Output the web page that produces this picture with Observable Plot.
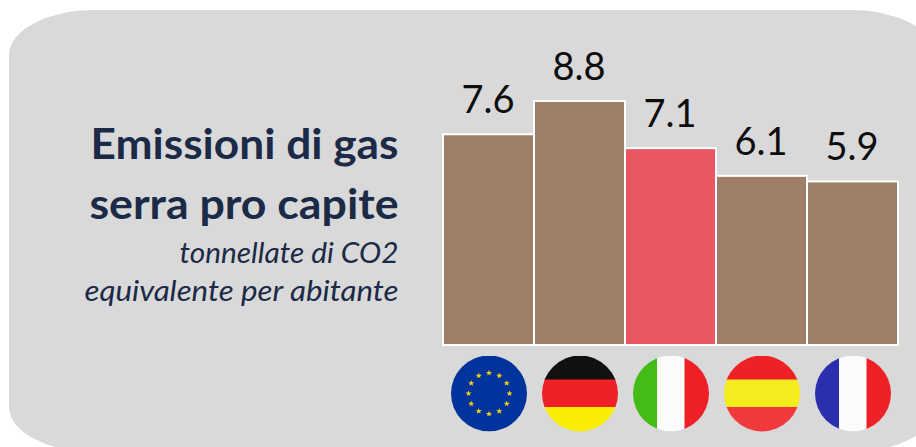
<!DOCTYPE html>
<html><head><meta charset="utf-8">
<script src="https://cdn.jsdelivr.net/npm/d3@7"></script>
<script src="https://cdn.jsdelivr.net/npm/@observablehq/plot@0.6"></script>
<style>
html,body{margin:0;padding:0;background:#fff;overflow:hidden;width:916px;height:447px}
#panel{position:absolute;left:9px;top:10px;width:927px;height:442px;background:#d9d9d9;border-radius:86px/45px}
#chart{position:absolute;left:0;top:0}
svg{background:transparent!important}
</style></head><body>
<div id="panel"></div><div id="chart"></div>
<script>
const countries = ["UE","Germania","Italia","Spagna","Francia"];
const values = [7.6,8.8,7.1,6.1,5.9];
const barColors = ["#9e7e68","#9e7e68","#ea5662","#9e7e68","#9e7e68"];
const labels = ["7.6","8.8","7.1","6.1","5.9"];
const titleLines = ["Emissioni di gas","serra pro capite"];
const subtitleLines = ["tonnellate di CO2","equivalente per abitante"];

function stripes(dir, cols){
  const sizes = [24,27.5,24.5];
  let p = 0, out = "";
  cols.forEach((col,i)=>{
    out += dir==="h" ? `<rect x="0" y="${p}" width="76" height="${sizes[i]+.5}" fill="${col}"/>`
                     : `<rect x="${p}" y="0" width="${sizes[i]+.5}" height="76" fill="${col}"/>`;
    p += sizes[i];
  });
  return out;
}
function star(cx,cy,r){
  let d="";
  for(let i=0;i<10;i++){const R=i%2?r*.42:r;const t=-Math.PI/2+i*Math.PI/5;d+=(i?"L":"M")+(cx+R*Math.cos(t)).toFixed(2)+" "+(cy+R*Math.sin(t)).toFixed(2);}
  return `<path d="${d}Z" fill="#f7cf17"/>`;
}
function euStars(){
  let o="";
  for(let i=0;i<12;i++){const t=i*Math.PI/6;o+=star(38+20.5*Math.sin(t),38-20.5*Math.cos(t),3.2);}
  return o;
}
const flagBodies = [
  `<rect width="76" height="76" fill="#00349c"/>`+euStars(),
  stripes("h",["#131110","#ef2026","#f9ec05"]),
  stripes("v",["#44bb17","#fbfbfb","#ef2026"]),
  stripes("h",["#ef2026","#f6ec1d","#f23a3e"]),
  stripes("v",["#2b2fae","#fbfbfb","#ef2026"])
];
const flagSrc = b => "data:image/svg+xml;utf8,"+encodeURIComponent(`<svg xmlns="http://www.w3.org/2000/svg" width="76" height="76" viewBox="0 0 76 76"><clipPath id="c"><circle cx="38" cy="38" r="38"/></clipPath><g clip-path="url(#c)">${b}</g></svg>`);

const rows = countries.map((c,i)=>({c,v:values[i],color:barColors[i],label:labels[i],src:flagSrc(flagBodies[i])}));
const font = "Lato, Carlito, Calibri, sans-serif";
const ink = "#1b2a47";
const heading = (text, baseline, extra) => Plot.text([text],{text:d=>d,frameAnchor:"top-left",dx:398,dy:baseline,textAnchor:"end",lineAnchor:"bottom",fill:ink,...extra});

const plot = Plot.plot({
  width:916,height:447,margin:0,
  style:{background:"transparent",fontFamily:font},
  x:{domain:countries,range:[442.5,898],padding:0,axis:null},
  y:{domain:[0,8.8],range:[345,101],axis:null},
  color:{type:"identity"},
  marks:[
    Plot.barY(rows,{x:"c",y:"v",fill:"color",stroke:"#fff",strokeWidth:2}),
    Plot.text(rows,{x:"c",y:"v",text:"label",dx:-1,dy:-34,lineAnchor:"middle",fontSize:38,fill:"#0d0d0d"}),
    Plot.image(rows,{x:"c",src:"src",width:76,height:76,frameAnchor:"bottom",dy:-54}),
    heading(titleLines[0],158,{fontSize:42,fontWeight:700}),
    heading(titleLines[1],218,{fontSize:42,fontWeight:700}),
    heading(subtitleLines[0],262,{fontSize:28,fontStyle:"italic"}),
    heading(subtitleLines[1],300,{fontSize:28,fontStyle:"italic"})
  ]
});
// The reference's type is horizontally stretched: fit each heading to its measured width.
const headingWidths = new Map([[titleLines[0],308],[titleLines[1],309],[subtitleLines[0],219],[subtitleLines[1],314]]);
plot.querySelectorAll("text").forEach(t=>{
  const w = headingWidths.get(t.textContent);
  if(w){t.setAttribute("textLength",w);t.setAttribute("lengthAdjust","spacingAndGlyphs");}
});
document.getElementById("chart").append(plot);
</script></body></html>
